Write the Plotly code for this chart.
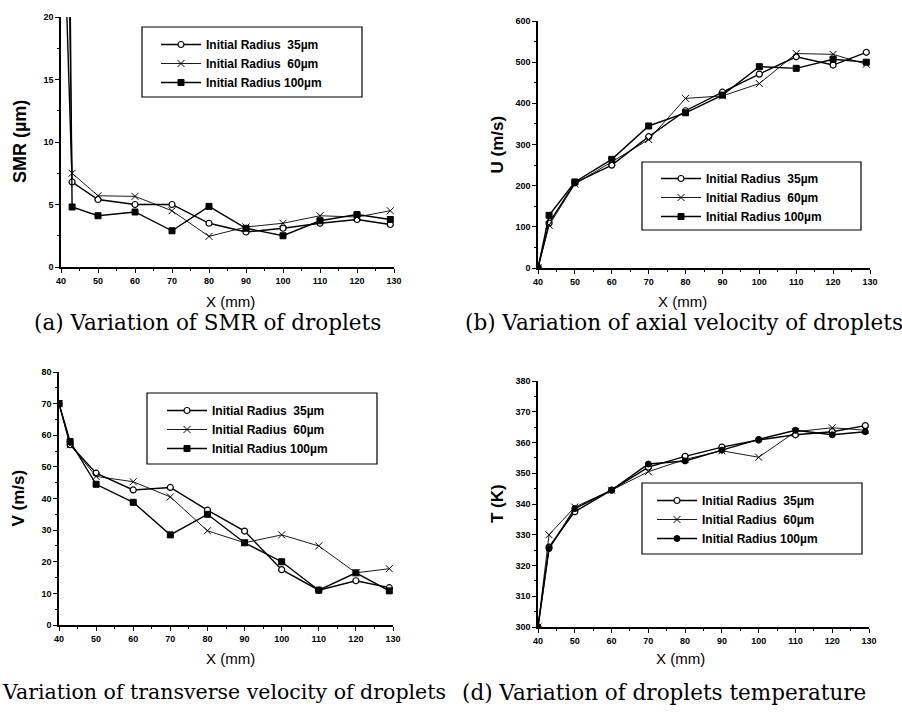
import plotly.graph_objects as go

# ---------------- data ----------------
x_pos = [40, 43, 50, 60, 70, 80, 90, 100, 110, 120, 129]
series_names = ["Initial Radius  35µm", "Initial Radius  60µm", "Initial Radius 100µm"]

smr_35 = [35, 6.8, 5.4, 5.0, 5.0, 3.5, 2.8, 3.1, 3.5, 3.8, 3.4]
smr_60 = [60, 7.5, 5.7, 5.65, 4.5, 2.45, 3.2, 3.5, 4.1, 4.0, 4.5]
smr_100 = [100, 4.8, 4.1, 4.4, 2.9, 4.85, 3.1, 2.5, 3.7, 4.2, 3.8]

u_35 = [0, 109, 207, 250, 319, 382, 427, 471, 513, 493, 524]
u_60 = [0, 104, 204, 258, 312, 412, 418, 448, 521, 519, 495]
u_100 = [0, 128, 209, 264, 345, 377, 420, 489, 485, 507, 500]

v_35 = [70, 57, 48, 42.7, 43.5, 36.3, 29.7, 17.5, 11, 14, 11.8]
v_60 = [70, 57, 47, 45.3, 40.5, 29.8, 26, 28.5, 25, 16.5, 17.8]
v_100 = [70, 58, 44.5, 38.8, 28.5, 35, 26, 20, 11, 16.5, 10.8]

t_35 = [300, 326, 337.5, 344.5, 352, 355.5, 358.5, 360.8, 362.5, 363.5, 365.5]
t_60 = [300, 330, 339, 344.5, 350.5, 354.5, 357.3, 355.2, 363.5, 364.8, 364]
t_100 = [300, 325.5, 338.5, 344.5, 353, 354, 357.5, 361, 364, 362.5, 363.5]

x_ticks = [40, 50, 60, 70, 80, 90, 100, 110, 120, 130]

panels = [
    dict(key="a", ys=[smr_35, smr_60, smr_100], yrange=[0, 20], dtick=5, minor=2.5,
         ytitle="SMR (µm)", caption="(a) Variation of SMR of droplets"),
    dict(key="b", ys=[u_35, u_60, u_100], yrange=[0, 600], dtick=100, minor=50,
         ytitle="U (m/s)", caption="(b) Variation of axial velocity of droplets"),
    dict(key="c", ys=[v_35, v_60, v_100], yrange=[0, 80], dtick=10, minor=5,
         ytitle="V (m/s)", caption="Variation of transverse velocity of droplets"),
    dict(key="d", ys=[t_35, t_60, t_100], yrange=[300, 380], dtick=10, minor=5,
         ytitle="T (K)", caption="(d) Variation of droplets temperature"),
]

# ---------------- layout geometry (pixels) ----------------
W, H = 902, 715
# (x_left, x_right, y_bottom, y_top) in pixels
boxes = {
    "a": (61, 394, 267, 17),
    "b": (538, 870, 268, 21),
    "c": (59, 393, 625, 372),
    "d": (538, 869, 627, 381),
}
# legend frame (x0, y0, x1, y1) and text start / first row centre
legend_box = {"a": (142, 27, 362, 97), "b": (642, 162, 861, 230),
              "c": (147, 393, 377, 464), "d": (642, 483, 862, 554)}
legend_text = {"a": (206, 44), "b": (706, 178), "c": (212, 410), "d": (702, 500)}
xtitle_pos = {"a": (230, 302), "b": (682, 302), "c": (230, 658), "d": (680, 658)}
ytitle_x = {"a": 20, "b": 497, "c": 18, "d": 497}
ytitle_size = {"a": 18, "b": 17, "c": 17, "d": 17}
caption_pos = {"a": (32, 322, "left", 21.5), "b": (463, 322, "left", 21.5),
               "c": (0, 692, "left", 20.5), "d": (460, 692, "left", 21.5)}

def px(x):
    return x / W

def py(y):
    return 1 - y / H

fig = go.Figure()
layout = dict(width=W, height=H, margin=dict(l=0, r=0, t=0, b=0, pad=0, autoexpand=False),
              paper_bgcolor="white", plot_bgcolor="white", showlegend=True,
              template="none")
annotations = []
shapes = []

tickfont = dict(family="Liberation Sans, Arial", size=9, color="black", weight="bold")
legfont = dict(family="Liberation Sans, Arial", size=12, color="black", weight="bold")

for i, p in enumerate(panels):
    n = i + 1
    xa = "x" if n == 1 else f"x{n}"
    ya = "y" if n == 1 else f"y{n}"
    leg = "legend" if n == 1 else f"legend{n}"
    k = p["key"]
    x0, x1, yb, yt = boxes[k]
    sym100 = "circle" if k == "d" else "square"
    widths = [1.4, 0.9, 1.4]
    for j, ys in enumerate(p["ys"]):
        if j == 0:
            mk = dict(symbol="circle", size=6, color="white",
                      line=dict(color="black", width=1.2))
        elif j == 1:
            mk = dict(symbol="x-thin-open", size=7, color="black",
                      line=dict(color="black", width=1))
        else:
            mk = dict(symbol=sym100, size=6, color="black",
                      line=dict(color="black", width=1))
        fig.add_trace(go.Scatter(
            x=x_pos, y=ys, mode="lines+markers", name=series_names[j],
            xaxis=xa, yaxis=ya, legend=leg,
            line=dict(color="black", width=widths[j]), marker=mk,
            cliponaxis=True))
    axx = dict(domain=[px(x0), px(x1)], range=[40, 130], anchor=ya, automargin=False,
               tickvals=x_ticks, ticks="outside", ticklen=4, tickwidth=1.2, tickcolor="black",
               showline=True, linecolor="black", linewidth=1.5, showgrid=False,
               zeroline=False, tickfont=tickfont,
               minor=dict(ticks="outside", dtick=5, ticklen=2, tickwidth=1, tickcolor="black"))
    axy = dict(domain=[py(yb), py(yt)], range=p["yrange"], anchor=xa, automargin=False,
               dtick=p["dtick"], tick0=p["yrange"][0], ticks="outside", ticklen=4, tickwidth=1.2,
               tickcolor="black",
               showline=True, linecolor="black", linewidth=1.5, showgrid=False,
               zeroline=False, tickfont=tickfont,
               minor=dict(ticks="outside", dtick=p["minor"], ticklen=2, tickwidth=1, tickcolor="black"))
    layout["xaxis" if n == 1 else f"xaxis{n}"] = axx
    layout["yaxis" if n == 1 else f"yaxis{n}"] = axy
    bx0, by0, bx1, by1 = legend_box[k]
    shapes.append(dict(type="rect", xref="paper", yref="paper",
                       x0=px(bx0), x1=px(bx1), y0=py(by1), y1=py(by0),
                       line=dict(color="black", width=1.2), fillcolor="white", layer="above"))
    tx0, ty0 = legend_text[k]
    layout[leg] = dict(x=px(tx0 - 50), y=py(ty0 - 14), xanchor="left", yanchor="top",
                       bgcolor="rgba(0,0,0,0)", borderwidth=0,
                       font=legfont, tracegroupgap=0, itemwidth=40)
    tx, ty = xtitle_pos[k]
    annotations.append(dict(text="X (mm)", x=px(tx), y=py(ty), xref="paper", yref="paper",
                            showarrow=False, xanchor="center", yanchor="middle",
                            font=dict(family="Liberation Sans Narrow, Liberation Sans, Arial",
                                      size=15, color="black")))
    annotations.append(dict(text=p["ytitle"], x=px(ytitle_x[k]), y=py((yb + yt) / 2),
                            xref="paper", yref="paper", showarrow=False, textangle=-90,
                            xanchor="center", yanchor="middle",
                            font=dict(family="Liberation Sans, Arial", size=ytitle_size[k],
                                      color="black", weight="bold")))
    cx, cy, anc, cs = caption_pos[k]
    annotations.append(dict(text=p["caption"], x=px(cx), y=py(cy), xref="paper", yref="paper",
                            showarrow=False, xanchor=anc, yanchor="middle",
                            font=dict(family="DejaVu Serif", size=cs, color="black")))

layout["annotations"] = annotations
layout["shapes"] = shapes
fig.update_layout(**layout)
fig.write_html("out.html", config={"displayModeBar": False},
               post_script="document.body.style.margin='0px';document.body.style.overflow='hidden';")
